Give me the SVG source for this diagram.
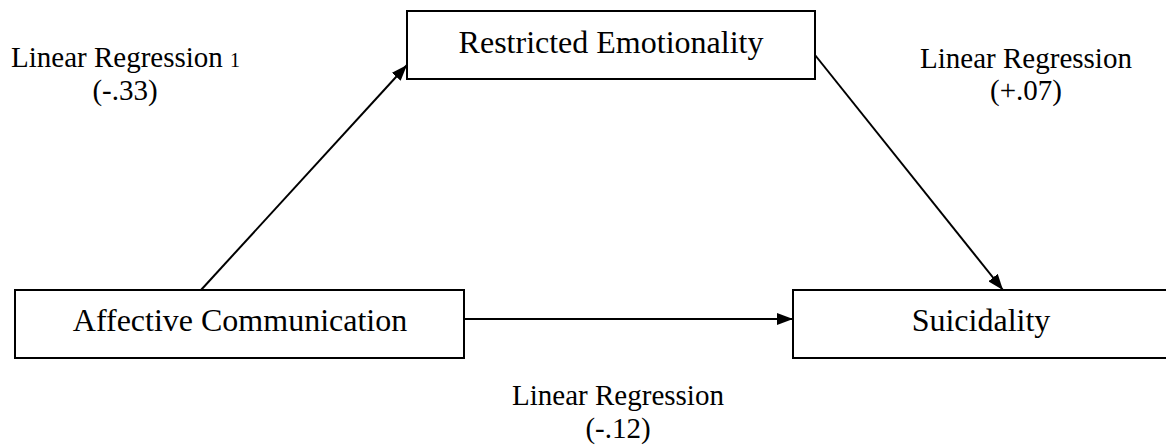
<svg xmlns="http://www.w3.org/2000/svg" width="1166" height="445" viewBox="0 0 1166 445">
<style>
.box{fill:#fff;stroke:#000;stroke-width:2}
.c{text-anchor:middle}
</style>
<defs>
<marker id="ah" viewBox="0 0 16 12" refX="16" refY="6" markerWidth="16" markerHeight="12" markerUnits="userSpaceOnUse" orient="auto">
<path d="M0,0 L16,6 L0,12 z" fill="#000"/>
</marker>
</defs>
<g id="connectors" stroke="#000" stroke-width="2">
<line x1="201" y1="290" x2="407" y2="65" marker-end="url(#ah)"/>
<line x1="815" y1="55" x2="1003" y2="290" marker-end="url(#ah)"/>
<line x1="465" y1="319" x2="793" y2="319" marker-end="url(#ah)"/>
</g>
<g font-family="Liberation Serif, Times New Roman, serif" fill="#000">
<g id="restricted">
<rect class="box" x="407" y="11" width="408" height="68"/>
<text class="c" x="611" y="53" font-size="32">Restricted Emotionality</text>
</g>
<g id="affective">
<rect class="box" x="15" y="290" width="449" height="68"/>
<text class="c" x="240" y="331" font-size="32">Affective Communication</text>
</g>
<g id="suicidality">
<rect class="box" x="793" y="290" width="390" height="68"/>
<text class="c" x="981" y="331" font-size="32">Suicidality</text>
</g>
<g id="labels" font-size="29">
<text x="11" y="67">Linear Regression <tspan font-size="20">1</tspan></text>
<text class="c" x="125" y="100">(-.33)</text>
<text class="c" x="1026" y="68">Linear Regression</text>
<text class="c" x="1026" y="100">(+.07)</text>
<text class="c" x="618" y="405">Linear Regression</text>
<text class="c" x="618" y="438">(-.12)</text>
</g>
</g>
</svg>
